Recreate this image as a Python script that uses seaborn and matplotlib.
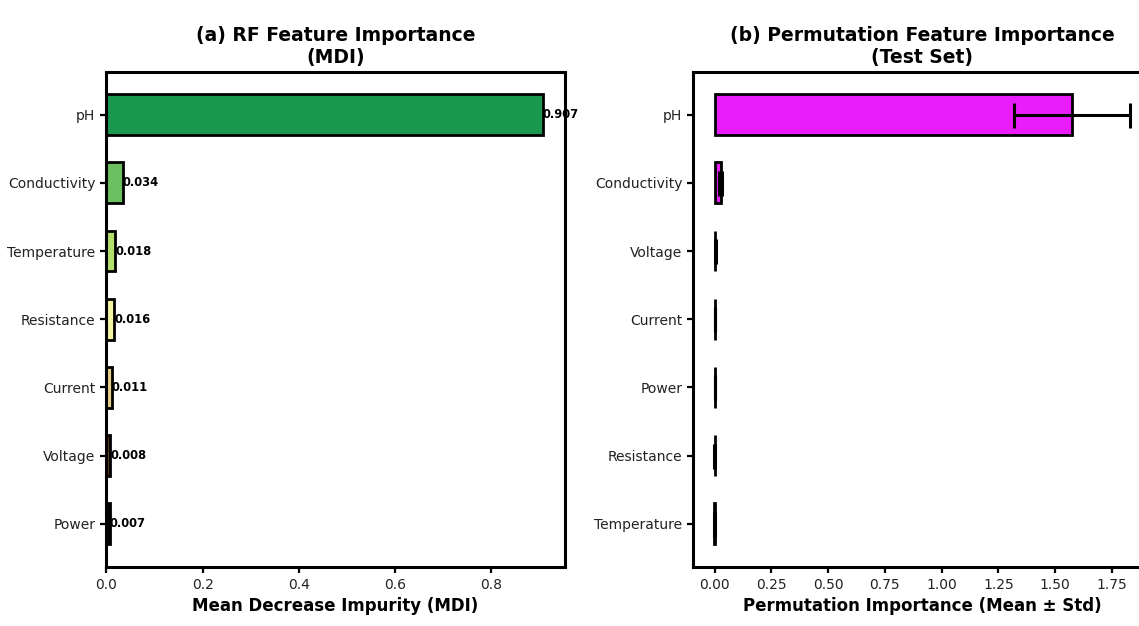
import matplotlib
matplotlib.use("Agg")
import matplotlib.pyplot as plt
import seaborn as sns
import numpy as np
import pandas as pd

# ---- data ----
mdi_features = ["pH", "Conductivity", "Temperature", "Resistance", "Current", "Voltage", "Power"]
mdi_values = [0.907, 0.034, 0.018, 0.016, 0.011, 0.008, 0.007]
mdi_colors = ["#1a9850", "#6abf5e", "#b2df6a", "#f4f5a0", "#e6cf82", "#5a3a12", "#050505"]

perm_features = ["pH", "Conductivity", "Voltage", "Current", "Power", "Resistance", "Temperature"]
perm_means = [1.574, 0.027, 0.002, 0.001, 0.0005, 0.0002, -0.003]
perm_stds = [0.255, 0.006, 0.002, 0.002, 0.001, 0.002, 0.002]
perm_color = "#e91cfb"

titles = ["(a) RF Feature Importance\n(MDI)", "(b) Permutation Feature Importance\n(Test Set)"]
xlabels = ["Mean Decrease Impurity (MDI)", "Permutation Importance (Mean \u00b1 Std)"]

sns.set_style("ticks")
plt.rcParams["font.family"] = ["DejaVu Sans"]
plt.rcParams["text.color"] = "black"
plt.rcParams["axes.labelcolor"] = "black"

W, H = 1139, 626
fig = plt.figure(figsize=(W / 100, H / 100), dpi=100)
ax1 = fig.add_axes([106.4 / W, 1 - 566.7 / H, 458.1 / W, 495 / H])
ax2 = fig.add_axes([693.4 / W, 1 - 566.7 / H, 457.0 / W, 495 / H])

df1 = pd.DataFrame({"feature": mdi_features, "value": mdi_values})
sns.barplot(data=df1, x="value", y="feature", hue="feature", palette=mdi_colors, saturation=1,
            legend=False, edgecolor="black", linewidth=2, width=0.6, ax=ax1, orient="h")
for i, v in enumerate(mdi_values):
    ax1.text(v, i, f"{v:.3f}", ha="left", va="center", fontsize=8.3, fontweight="bold",
             color="black")
ax1.set_xlim(0, max(mdi_values) * 1.05)

df2 = pd.DataFrame({"feature": perm_features, "value": perm_means})
sns.barplot(data=df2, x="value", y="feature", color=perm_color, saturation=1,
            edgecolor="black", linewidth=2, width=0.6, ax=ax2, orient="h")
ax2.errorbar(x=perm_means, y=np.arange(len(perm_features)), xerr=perm_stds, fmt="none",
             ecolor="black", elinewidth=2.2, capsize=9, capthick=2.2)
ax2.set_xlim(-0.094, 1.92)
ax2.set_xticks([0, 0.25, 0.5, 0.75, 1.0, 1.25, 1.5, 1.75])

for ax, t, xl in zip([ax1, ax2], titles, xlabels):
    ax.set_ylim(6.63, -0.63)
    ax.set_title(t, fontsize=13.5, fontweight="bold", color="black")
    ax.set_xlabel(xl, fontsize=12, fontweight="bold", color="black")
    ax.set_ylabel("")
    for s in ax.spines.values():
        s.set_visible(True)
        s.set_linewidth(2.2)
        s.set_color("black")
    ax.tick_params(axis="both", labelsize=10, width=1.6, length=4.5, colors="black")
    ax.tick_params(axis="both", labelcolor="#222222")

fig.savefig("out.png", dpi=100)
